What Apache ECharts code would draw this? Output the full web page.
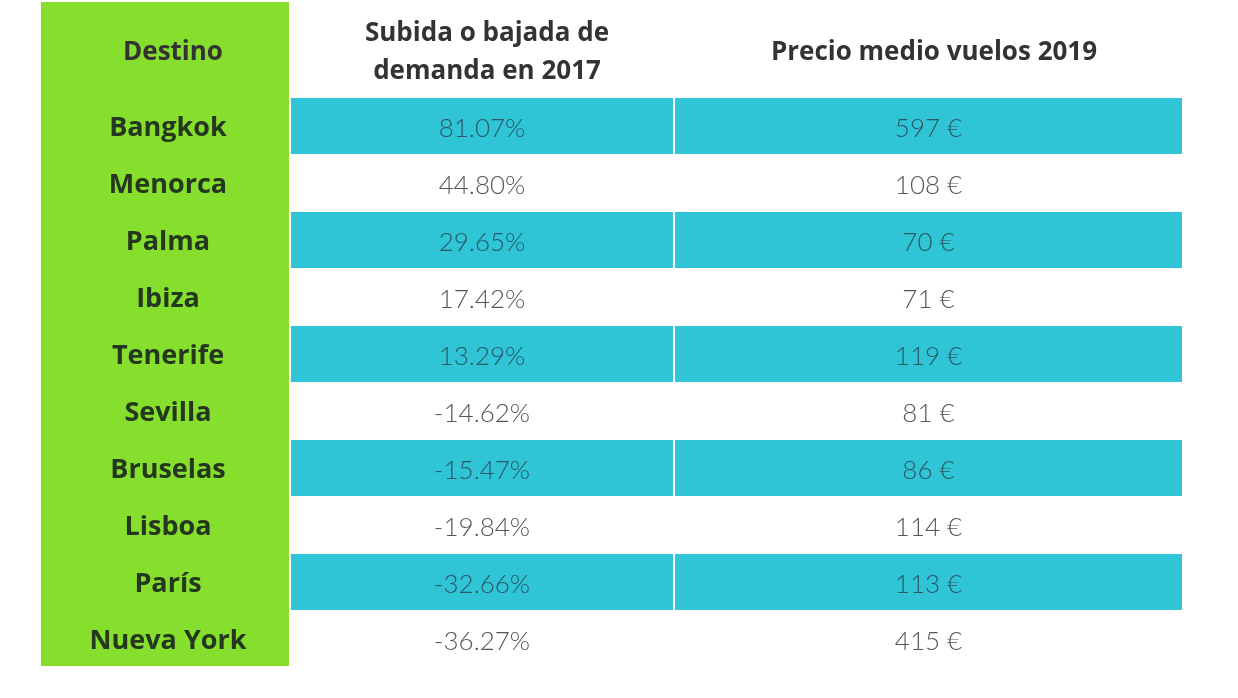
<!DOCTYPE html>
<html><head><meta charset="utf-8">
<script src="https://cdn.jsdelivr.net/npm/echarts@6/dist/echarts.min.js"></script>
<style>html,body{margin:0;padding:0;background:#fff}#c{width:1238px;height:698px}</style>
</head><body><div id="c"></div>
<script>
const destinos = ['Bangkok','Menorca','Palma','Ibiza','Tenerife','Sevilla','Bruselas','Lisboa','París','Nueva York'];
const demanda = [81.07, 44.80, 29.65, 17.42, 13.29, -14.62, -15.47, -19.84, -32.66, -36.27];
const precio = [597, 108, 70, 71, 119, 81, 86, 114, 113, 415];
const headers = ['Destino', 'Subida o bajada de\ndemanda en 2017', 'Precio medio vuelos 2019'];

const CYAN = '#2fc4d6', GREEN = '#85df2c';
const labelFont = 'bold 27px "Open Sans", Lato, sans-serif';
const valueFont = '300 26px Lato, "Open Sans", sans-serif';

function makeRender(texts, striped, bold) {
  return function (params, api) {
    const idx = api.value(0);
    const p0 = api.coord([0, idx]);
    const p1 = api.coord([1, idx]);
    const h = api.size([0, 1])[1];
    const cyan = striped && idx % 2 === 0;
    const children = [];
    if (cyan) {
      children.push({ type: 'rect', shape: { x: p0[0], y: p0[1] - h / 2, width: p1[0] - p0[0], height: h - 1 },
        style: { fill: CYAN } });
    }
    children.push({ type: 'text', style: {
      text: texts[idx], x: (p0[0] + p1[0]) / 2 + (bold ? 3 : 0), y: p0[1] + 2,
      align: 'center', verticalAlign: 'middle',
      font: bold ? labelFont : valueFont,
      fill: bold ? '#25381f' : (cyan ? '#2a5864' : '#555')
    } });
    return { type: 'group', children };
  };
}

const grids = [
  { left: 41, width: 248, top: 98, height: 570 },
  { left: 291, width: 382, top: 98, height: 570 },
  { left: 675, width: 507, top: 98, height: 570 }
];
const textsCols = [
  destinos,
  demanda.map(v => v.toFixed(2) + '%'),
  precio.map(v => v + ' €')
];
const centers = [168, 482, 929];

const option = {
  animation: false,
  graphic: [{ type: 'rect', left: 41, top: 2, shape: { width: 248, height: 664 }, style: { fill: GREEN }, z: -10 }],
  title: headers.map((h, i) => ({
    text: h, left: centers[i], top: i === 1 ? 10 : 29, textAlign: 'center',
    textStyle: { fontFamily: '"Open Sans", Lato, sans-serif', fontWeight: 'bold', fontSize: 26, color: '#333', lineHeight: 38 }
  })),
  grid: grids,
  xAxis: grids.map((g, i) => ({ gridIndex: i, type: 'value', min: 0, max: 1, show: false })),
  yAxis: grids.map((g, i) => ({ gridIndex: i, type: 'category', data: destinos, inverse: true, show: false })),
  series: [0, 1, 2].map(i => ({
    type: 'custom', xAxisIndex: i, yAxisIndex: i,
    renderItem: makeRender(textsCols[i], i > 0, i === 0),
    encode: { y: 0 },
    data: destinos.map((d, k) => [k, i === 0 ? 0 : (i === 1 ? demanda[k] : precio[k])])
  }))
};
echarts.init(document.getElementById('c')).setOption(option);
</script></body></html>
